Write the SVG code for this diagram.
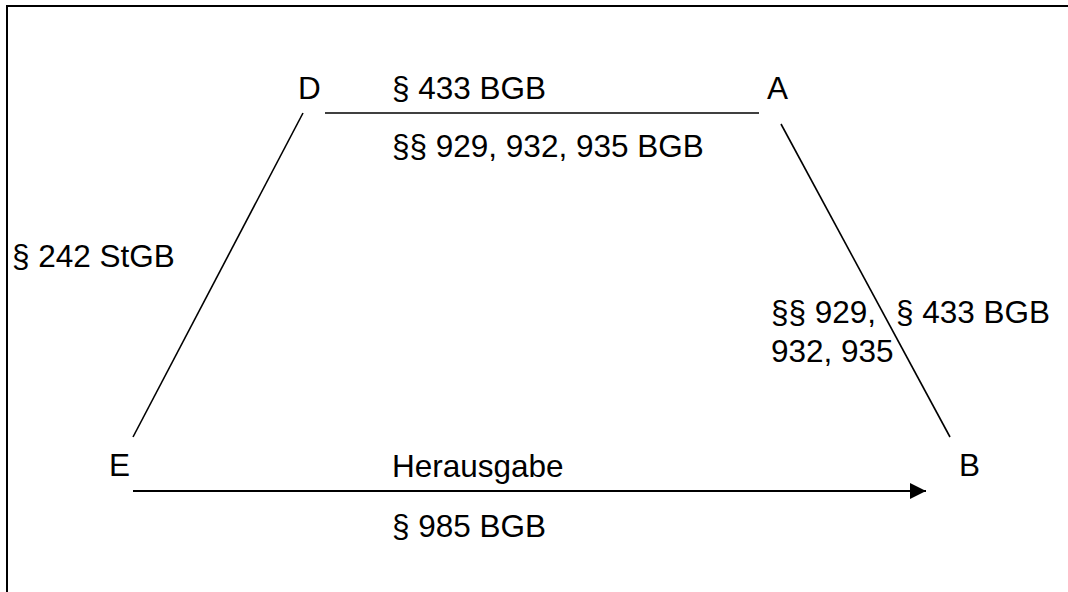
<svg xmlns="http://www.w3.org/2000/svg" width="1068" height="592" viewBox="0 0 1068 592">
  <style>
    text { font-family: "Liberation Sans", Arial, Helvetica, sans-serif; font-size: 31.5px; fill: #000; }
    .ln { stroke: #000; stroke-width: 1.6; fill: none; }
    .arr { stroke: #000; stroke-width: 2; fill: none; }
  </style>
  <defs>
    <marker id="ah" markerUnits="userSpaceOnUse" markerWidth="17" markerHeight="17" refX="16" refY="8" orient="auto">
      <path d="M0,0 L16,8 L0,16 Z" fill="#000"/>
    </marker>
  </defs>
  <rect x="0" y="0" width="1068" height="592" fill="#fff"/>
  <rect x="7" y="6" width="1080" height="620" fill="none" stroke="#000" stroke-width="2"/>

  <g id="connectors">
    <line class="ln" x1="325" y1="113" x2="759" y2="113"/>
    <line class="ln" x1="303" y1="113" x2="133" y2="437"/>
    <line class="ln" x1="781" y1="124" x2="950" y2="437"/>
    <line class="arr" x1="133" y1="491" x2="926" y2="491" marker-end="url(#ah)"/>
  </g>

  <g id="node-D"><text x="298" y="99">D</text></g>
  <g id="node-A"><text x="767" y="99">A</text></g>
  <g id="node-E"><text x="109" y="476">E</text></g>
  <g id="node-B"><text x="959" y="476">B</text></g>

  <g id="labels">
    <text x="392" y="99">§ 433 BGB</text>
    <text x="392" y="157">§§ 929, 932, 935 BGB</text>
    <text x="12" y="267">§ 242 StGB</text>
    <text x="771" y="323">§§ 929,</text>
    <text x="771" y="362">932, 935</text>
    <text x="896" y="323">§ 433 BGB</text>
    <text x="392" y="477">Herausgabe</text>
    <text x="392" y="537">§ 985 BGB</text>
  </g>
</svg>
